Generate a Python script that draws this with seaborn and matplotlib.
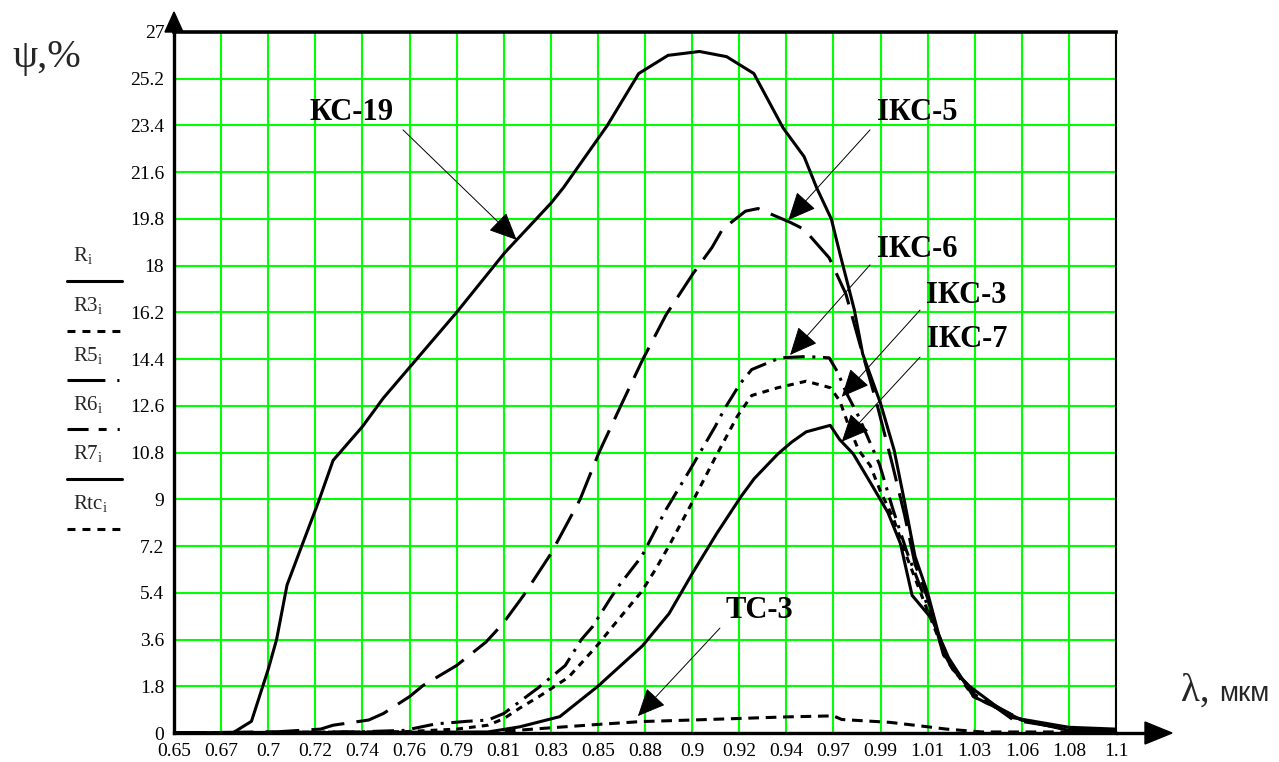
import matplotlib
matplotlib.use("Agg")
import matplotlib.pyplot as plt
import seaborn as sns
import numpy as np
import pandas as pd
from matplotlib.lines import Line2D
from matplotlib.patches import Polygon

# wavelength, mkm  /  psi, %
kc19_x = [0.650, 0.678, 0.687, 0.695, 0.699, 0.704, 0.711, 0.719, 0.726, 0.740, 0.750, 0.785,
          0.808, 0.830, 0.836, 0.857, 0.872, 0.886, 0.901, 0.914, 0.927, 0.941, 0.951, 0.957,
          0.964, 0.968, 0.975, 0.979, 0.9875, 0.994, 0.999, 1.004, 1.010, 1.0176, 1.022, 1.030,
          1.050, 1.0775, 1.100]
kc19_y = [0.0, 0.0, 0.45, 2.45, 3.6, 5.7, 7.2, 8.9, 10.5, 11.8, 12.9, 16.2,
          18.5, 20.4, 21.0, 23.4, 25.4, 26.1, 26.25, 26.05, 25.4, 23.3, 22.2, 21.0,
          19.8, 18.5, 16.3, 14.6, 12.7, 10.9, 8.9, 6.8, 5.4, 3.1, 2.45, 1.8,
          0.6, 0.22, 0.15]

iks5_x = [0.650, 0.700, 0.720, 0.726, 0.743, 0.750, 0.7625, 0.769, 0.785, 0.799, 0.807, 0.817,
          0.830, 0.844, 0.853, 0.864, 0.874, 0.885, 0.898, 0.907, 0.912, 0.923, 0.929, 0.9446,
          0.951, 0.963, 0.971, 0.9786, 0.9857, 0.993, 0.999, 1.004, 1.010, 1.0176, 1.024, 1.032,
          1.051, 1.0775, 1.100]
iks5_y = [0.0, 0.05, 0.15, 0.3, 0.5, 0.75, 1.4, 1.83, 2.6, 3.5, 4.2, 5.3,
          6.9, 9.0, 10.8, 12.7, 14.4, 16.1, 17.7, 18.7, 19.4, 20.1, 20.2, 19.66,
          19.4, 18.3, 16.9, 14.7, 12.7, 10.4, 8.4, 6.5, 5.2, 3.0, 2.3, 1.6,
          0.5, 0.15, 0.1]

iks6_x = [0.650, 0.740, 0.760, 0.775, 0.790, 0.800, 0.8075, 0.815, 0.8243, 0.8369, 0.8446, 0.850,
          0.8586, 0.8628, 0.8734, 0.885, 0.8962, 0.9085, 0.9131, 0.9204, 0.926, 0.9395, 0.952,
          0.963, 0.967, 0.9712, 0.977, 0.9808, 0.987, 0.9935, 1.000, 1.010, 1.020, 1.032,
          1.055, 1.0775, 1.100]
iks6_y = [0.0, 0.05, 0.1, 0.35, 0.45, 0.5, 0.75, 1.2, 1.76, 2.6, 3.6, 4.1,
          5.2, 5.7, 6.8, 8.6, 10.1, 11.8, 12.5, 13.45, 14.0, 14.45, 14.5,
          14.45, 13.9, 13.1, 12.2, 11.5, 10.35, 8.6, 7.0, 4.9, 2.8, 1.5,
          0.5, 0.15, 0.1]

iks3_x = [0.650, 0.760, 0.785, 0.800, 0.8075, 0.815, 0.8243, 0.8385, 0.8525, 0.859, 0.8734, 0.880,
          0.8864, 0.897, 0.9085, 0.9191, 0.926, 0.9385, 0.952, 0.9635, 0.968, 0.972, 0.977,
          0.9826, 0.9875, 0.9935, 1.000, 1.010, 1.020, 1.032, 1.055, 1.0775, 1.100]
iks3_y = [0.0, 0.05, 0.15, 0.3, 0.55, 0.95, 1.4, 2.15, 3.4, 4.05, 5.45, 6.3,
          7.2, 8.8, 10.6, 12.2, 13.0, 13.3, 13.55, 13.3, 12.8, 11.9, 10.9,
          10.3, 9.3, 8.3, 6.8, 4.7, 2.7, 1.4, 0.5, 0.12, 0.08]

iks7_x = [0.650, 0.800, 0.8153, 0.8343, 0.8525, 0.8737, 0.8865, 0.898, 0.9094, 0.9208, 0.9272,
          0.9385, 0.945, 0.952, 0.9635, 0.968, 0.9745, 0.983, 0.991, 0.997, 1.0026, 1.012,
          1.020, 1.032, 1.055, 1.0775, 1.100]
iks7_y = [0.0, 0.04, 0.24, 0.63, 1.8, 3.35, 4.6, 6.2, 7.7, 9.1, 9.8,
          10.75, 11.2, 11.6, 11.85, 11.3, 10.75, 9.6, 8.5, 7.3, 5.3, 4.4,
          2.9, 1.4, 0.5, 0.1, 0.08]

tc3_x = [0.650, 0.800, 0.810, 0.830, 0.8525, 0.873, 0.8975, 0.9425, 0.965, 0.969, 0.992,
         1.010, 1.019, 1.036, 1.100]
tc3_y = [0.0, 0.02, 0.08, 0.2, 0.33, 0.44, 0.5, 0.62, 0.66, 0.52, 0.41,
         0.24, 0.15, 0.04, 0.04]

x_ticks = np.linspace(0.65, 1.1, 21)
x_tick_labels = ['0.65', '0.67', '0.7', '0.72', '0.74', '0.76', '0.79', '0.81', '0.83', '0.85', '0.88',
                 '0.9', '0.92', '0.94', '0.97', '0.99', '1.01', '1.03', '1.06', '1.08', '1.1']
y_ticks = np.linspace(0, 27, 16)
y_tick_labels = ['0', '1.8', '3.6', '5.4', '7.2', '9', '10.8', '12.6', '14.4', '16.2', '18',
                 '19.8', '21.6', '23.4', '25.2', '27']

W, H = 1279, 762


def fx(px):
    return px / W


def fy(py):
    return 1 - py / H


sns.set_theme(style="white")
plt.rcParams['font.family'] = ['Liberation Serif', 'DejaVu Serif']
plt.rcParams['mathtext.fontset'] = 'custom'
plt.rcParams['mathtext.rm'] = 'Liberation Serif'

fig = plt.figure(figsize=(W / 100, H / 100), dpi=100)
fig.patch.set_facecolor('white')
ax = fig.add_axes([fx(174), fy(733), fx(1116) - fx(174), fy(32) - fy(733)])

series = {
    'КС-19': (kc19_x, kc19_y),
    'ІКС-5': (iks5_x, iks5_y),
    'ІКС-6': (iks6_x, iks6_y),
    'ІКС-3': (iks3_x, iks3_y),
    'ІКС-7': (iks7_x, iks7_y),
    'ТС-3': (tc3_x, tc3_y),
}
df = pd.concat([pd.DataFrame({'lam': x, 'psi': y, 'curve': name})
                for name, (x, y) in series.items()], ignore_index=True)

dash_map = {'КС-19': '', 'ІКС-5': (11, 4), 'ІКС-6': (7, 2.5, 1, 2.5),
            'ІКС-3': (2.2, 2), 'ІКС-7': '', 'ТС-3': (3.5, 2.2)}

sns.lineplot(data=df, x='lam', y='psi', style='curve', dashes=dash_map, color='black',
             linewidth=2.2, legend=False, estimator=None, sort=False, ax=ax, zorder=3)

ax.set_xlim(0.65, 1.1)
ax.set_ylim(0, 27)
ax.set_xticks(x_ticks)
ax.set_xticklabels(x_tick_labels)
ax.set_yticks(y_ticks)
ax.set_yticklabels(y_tick_labels)
ax.set_xlabel('')
ax.set_ylabel('')
ax.grid(True, color='#00ff00', linewidth=1.5)
ax.set_axisbelow(True)
ax.tick_params(axis='both', length=0, labelsize=14, colors='black')
ax.tick_params(axis='x', pad=7)
ax.tick_params(axis='y', pad=7)

for side, lw in [('left', 2.4), ('bottom', 2.4), ('top', 2.6), ('right', 1.5)]:
    ax.spines[side].set_visible(True)
    ax.spines[side].set_color('black')
    ax.spines[side].set_linewidth(lw)

# curve labels with arrows: (text, text pos, arrow start, arrow tip)
labels = [
    ('КС-19', (0.735, 23.9), (0.7594, 23.23), (0.8137, 18.99)),
    ('ІКС-5', (1.005, 23.9), (0.9825, 23.23), (0.9435, 19.76)),
    ('ІКС-6', (1.005, 18.64), (0.9825, 18.03), (0.9443, 14.56)),
    ('ІКС-3', (1.0283, 16.87), (1.0064, 16.29), (0.969, 12.95)),
    ('ІКС-7', (1.0288, 15.14), (1.0064, 14.48), (0.969, 11.22)),
    ('ТС-3', (0.9295, 4.70), (0.9108, 4.04), (0.8716, 0.65)),
]
for text, tpos, start, tip in labels:
    ax.text(tpos[0], tpos[1], text, ha='center', va='center', fontsize=22,
            fontweight='bold', color='black', zorder=5)
    ax.annotate('', xy=tip, xytext=start,
                arrowprops=dict(arrowstyle='-|>,head_length=0.55,head_width=0.25',
                                mutation_scale=32, lw=0.7, color='black',
                                shrinkA=0, shrinkB=0), zorder=5)

# axis arrows
fig.add_artist(Polygon([(fx(165), fy(32)), (fx(183), fy(32)), (fx(174), fy(12))],
                       closed=True, color='black'))
fig.add_artist(Line2D([fx(1116), fx(1150)], [fy(733), fy(733)], color='black', linewidth=2.4))
fig.add_artist(Polygon([(fx(1145), fy(722)), (fx(1145), fy(744)), (fx(1172), fy(733))],
                       closed=True, color='black'))

# axis titles
fig.text(fx(12), fy(67), 'ψ,%', fontsize=29, va='baseline', ha='left')
fig.text(fx(1181), fy(701), 'λ,', fontsize=28, va='baseline', ha='left')
fig.text(fx(1219), fy(701), 'мкм', fontsize=20, va='baseline', ha='left',
         family=['Liberation Sans', 'DejaVu Sans'])

# Mathcad-style legend on the left
legend_items = [
    (r'$\mathregular{R_i}$', '-'),
    (r'$\mathregular{R3_i}$', (0, (2.6, 2.3))),
    (r'$\mathregular{R5_i}$', (0, (12.4, 3.9, 0.7, 20))),
    (r'$\mathregular{R6_i}$', (0, (6.9, 3.3, 2.6, 3.6, 0.7, 20))),
    (r'$\mathregular{R7_i}$', '-'),
    (r'$\mathregular{Rtc_i}$', (0, (2.6, 2.3))),
]
for k, (lab, ls) in enumerate(legend_items):
    ty = 256 + k * 49.5
    fig.text(fx(73), fy(ty), lab, fontsize=15, va='center', ha='left')
    fig.add_artist(Line2D([fx(67), fx(122)], [fy(ty + 25), fy(ty + 25)], color='black',
                          linewidth=2.2, linestyle=ls))

fig.savefig('out.png', dpi=100, facecolor='white')
